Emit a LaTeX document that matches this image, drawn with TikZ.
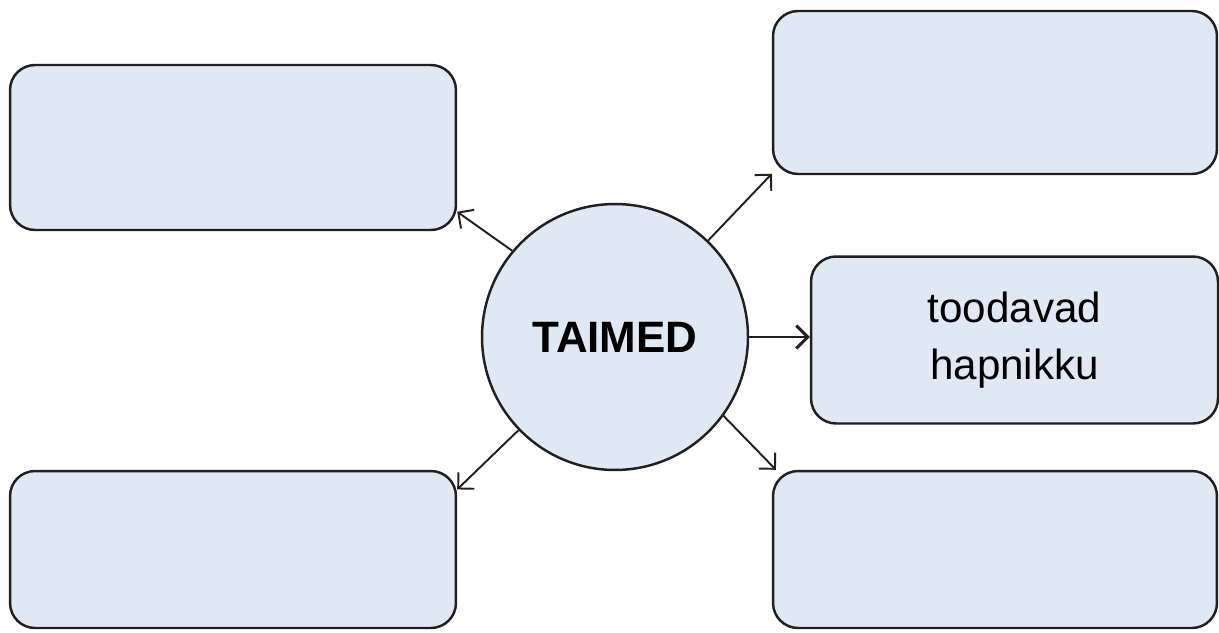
\documentclass[tikz,border=0pt]{standalone}
\usepackage{fontspec}
\setmainfont{Liberation Sans}
\usetikzlibrary{arrows.meta}

\definecolor{boxfill}{RGB}{224,232,244}
\definecolor{ink}{RGB}{35,31,32}

\begin{document}
\begin{tikzpicture}[x=0.02cm, y=-0.02cm,
    box/.style={draw=ink, line width=1.4pt, fill=boxfill, rounded corners=0.5cm,
      align=center, font=\fontsize{24}{32}\selectfont},
    link/.style={draw=ink, line width=1.1pt, -{Straight Barb[length=6.5pt,width=13pt]}}]
  \useasboundingbox (0,0) rectangle (1219,632);

  % --- centre ---
  \node[draw=ink, line width=1.4pt, fill=boxfill, circle, minimum size=5.32cm,
    font=\fontsize{25}{30}\selectfont\bfseries] (taimed) at (615,337) {TAIMED};

  % --- boxes round it ---
  \node[box, minimum width=8.92cm, minimum height=3.3cm] (tl) at (233,147.5) {};
  \node[box, minimum width=8.88cm, minimum height=3.26cm] (tr) at (995,92.5) {};
  \node[box, minimum width=8.14cm, minimum height=3.34cm] (mr) at (1014.5,340) {toodavad\\hapnikku};
  \node[box, minimum width=8.92cm, minimum height=3.14cm] (bl) at (233,549.5) {};
  \node[box, minimum width=8.88cm, minimum height=3.14cm] (br) at (995,549.5) {};

  % --- arrows ---
  \draw[link] (taimed.140) -- (tl.-16);
  \draw[link] (taimed.46) -- (tr.200);
  \draw[link, line width=1.7pt] (taimed.east) -- (taimed.east -| mr.west);
  \draw[link] (taimed.-36) -- (br.160);
  \draw[link] (taimed.224) -- (bl.15);
\end{tikzpicture}
\end{document}
